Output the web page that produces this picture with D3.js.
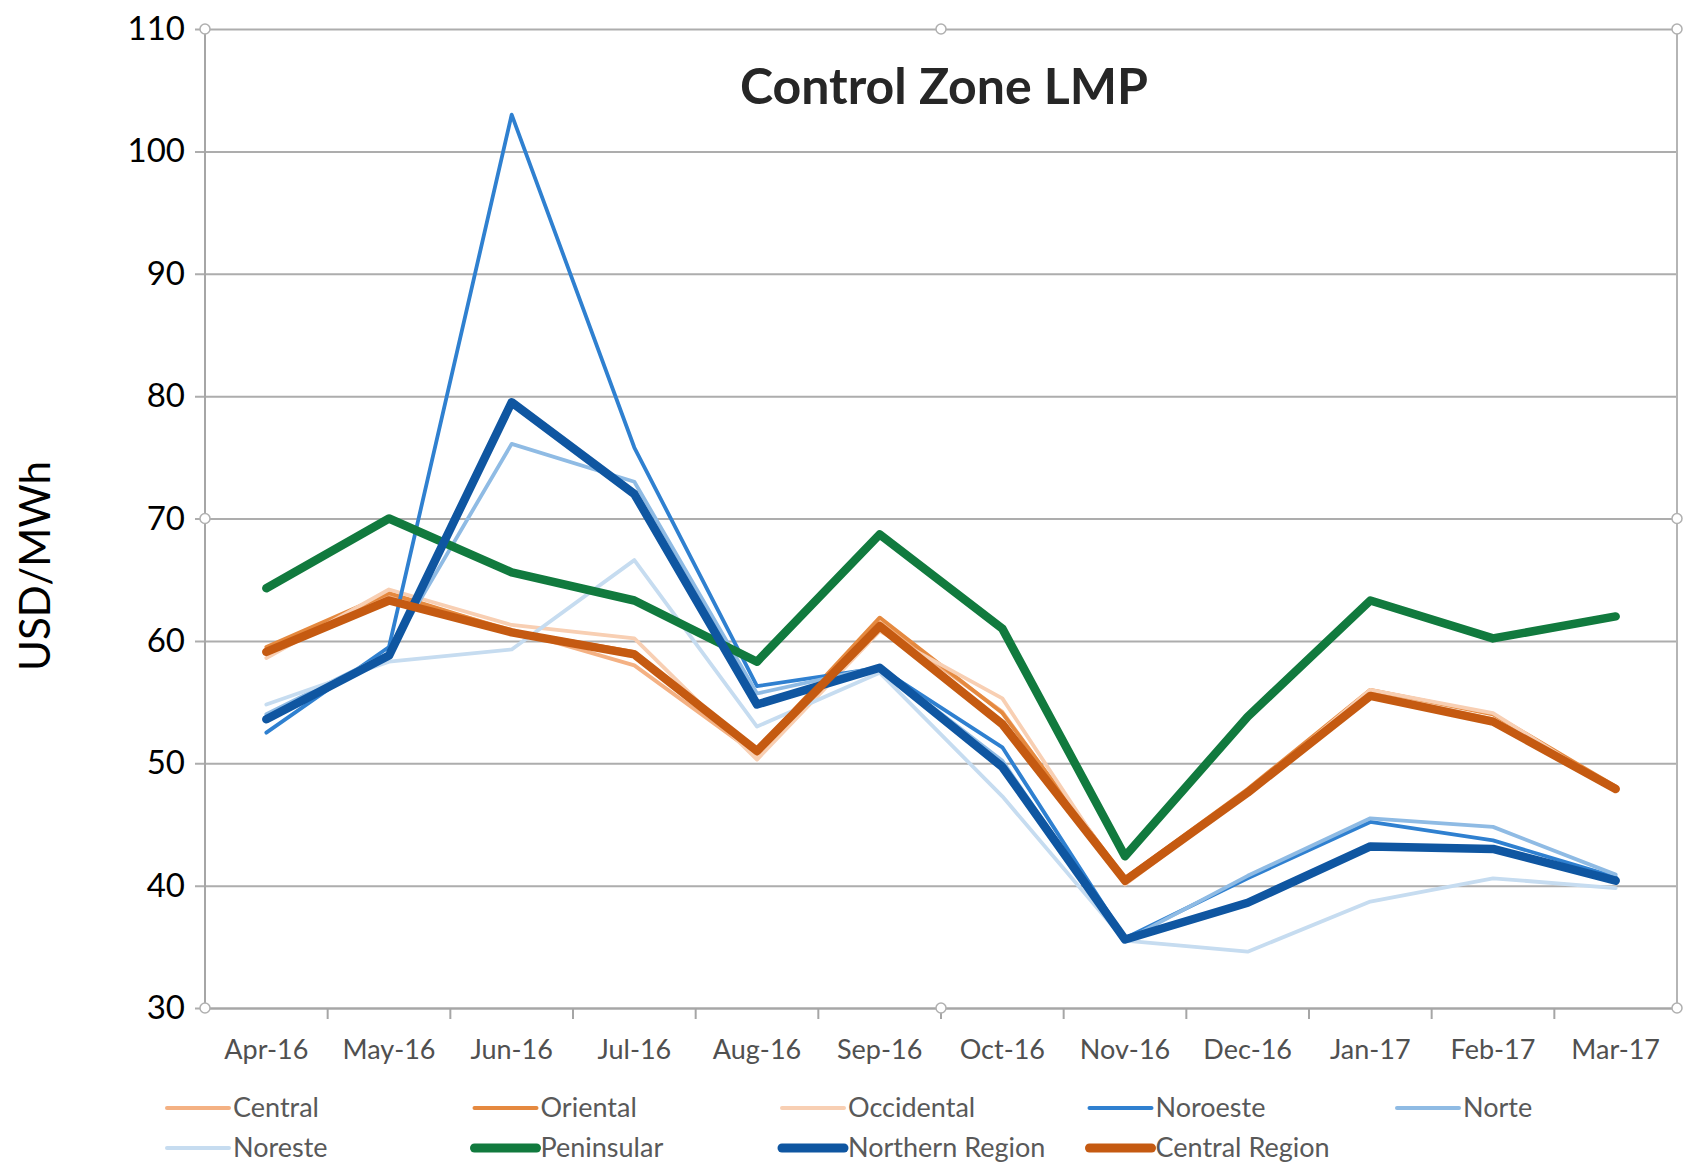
<!DOCTYPE html>
<html>
<head>
<meta charset="utf-8">
<script src="https://cdn.jsdelivr.net/npm/d3@7"></script>
<style>
  body { margin: 0; background: #fff; }
  text { font-family: Lato, "Open Sans", sans-serif; }
</style>
</head>
<body>
<div id="chart"></div>
<script>
const months = ["Apr-16", "May-16", "Jun-16", "Jul-16", "Aug-16", "Sep-16",
    "Oct-16", "Nov-16", "Dec-16", "Jan-17", "Feb-17", "Mar-17"];
const yTicks = [30, 40, 50, 60, 70, 80, 90, 100, 110];

const central = [59.3, 63.7, 60.9, 58.0, 50.7, 61.5, 54.2, 40.3, 47.6, 55.7, 53.6, 47.8];
const oriental = [59.5, 63.9, 60.8, 59.1, 51.1, 61.9, 54.1, 40.6, 47.9, 56.0, 54.0, 48.1];
const occidental = [58.6, 64.2, 61.3, 60.2, 50.3, 60.8, 55.3, 40.1, 47.6, 56.0, 54.1, 47.8];
const noroeste = [52.5, 59.5, 103.0, 75.8, 56.3, 57.8, 51.3, 35.7, 40.6, 45.2, 43.7, 40.7];
const norte = [54.0, 59.0, 76.1, 73.0, 55.7, 57.9, 50.2, 35.5, 40.8, 45.5, 44.8, 40.9];
const noreste = [54.8, 58.3, 59.3, 66.6, 53.0, 57.4, 47.3, 35.5, 34.6, 38.7, 40.6, 39.8];
const peninsular = [64.3, 70.0, 65.6, 63.3, 58.3, 68.7, 61.0, 42.4, 53.8, 63.3, 60.2, 62.0];
const northernRegion = [53.6, 58.8, 79.5, 72.0, 54.8, 57.8, 49.7, 35.6, 38.6, 43.2, 43.0, 40.4];
const centralRegion = [59.1, 63.3, 60.7, 58.9, 51.0, 61.2, 53.2, 40.4, 47.6, 55.5, 53.4, 47.9];

// drawing order follows the legend; later series sit on top
const series = [
    { name: "Central", values: central, color: "#f4b183", thick: false },
    { name: "Oriental", values: oriental, color: "#e5893f", thick: false },
    { name: "Occidental", values: occidental, color: "#f8cfb3", thick: false },
    { name: "Noroeste", values: noroeste, color: "#2f80d0", thick: false },
    { name: "Norte", values: norte, color: "#8fbbe4", thick: false },
    { name: "Noreste", values: noreste, color: "#c6dcf0", thick: false },
    { name: "Peninsular", values: peninsular, color: "#117a3e", thick: true },
    { name: "Northern Region", values: northernRegion, color: "#0f56a1", thick: true },
    { name: "Central Region", values: centralRegion, color: "#c55a11", thick: true }
];

const width = 1691;
const height = 1164;
const plotLeft = 205, plotRight = 1677, plotTop = 29, plotBottom = 1008;

const svg = d3.select("#chart")
    .append("svg")
    .attr("width", width)
    .attr("height", height);

svg.append("rect").attr("width", width).attr("height", height).attr("fill", "#fff");

const x = d3.scaleBand().domain(months).range([plotLeft, plotRight]);
const y = d3.scaleLinear().domain([30, 110]).range([plotBottom, plotTop]);

// gridlines + y labels
const yAxis = svg.append("g")
    .attr("transform", `translate(${plotLeft},0)`)
    .call(d3.axisLeft(y).tickValues(yTicks).tickSize(-(plotRight - plotLeft)).tickSizeOuter(0).tickPadding(20));
yAxis.select(".domain").remove();
yAxis.selectAll(".tick line")
    .attr("x1", -10)
    .attr("stroke", "#adadad")
    .attr("stroke-width", 2);
yAxis.selectAll(".tick text")
    .attr("font-size", 33)
    .attr("fill", "#000")
    .attr("font-family", "Lato, sans-serif");

// left axis and right border
svg.append("line").attr("x1", plotLeft).attr("x2", plotLeft).attr("y1", plotTop).attr("y2", plotBottom)
    .attr("stroke", "#a6a6a6").attr("stroke-width", 2);
svg.append("line").attr("x1", plotRight).attr("x2", plotRight).attr("y1", plotTop).attr("y2", plotBottom)
    .attr("stroke", "#b5b5b5").attr("stroke-width", 2);

// x axis
const xAxis = svg.append("g")
    .attr("transform", `translate(0,${plotBottom})`)
    .call(d3.axisBottom(x).tickSize(0).tickPadding(32));
xAxis.select(".domain").attr("stroke", "#a6a6a6").attr("stroke-width", 2);
xAxis.selectAll(".tick text")
    .attr("font-size", 27)
    .attr("fill", "#505050")
    .attr("font-family", "Lato, sans-serif");

// category separator ticks
svg.append("g").selectAll("line")
    .data(months.slice(1))
    .enter()
    .append("line")
    .attr("x1", d => x(d))
    .attr("x2", d => x(d))
    .attr("y1", plotBottom)
    .attr("y2", plotBottom + 11)
    .attr("stroke", "#a6a6a6")
    .attr("stroke-width", 2);

// title
svg.append("text")
    .attr("x", 944)
    .attr("y", 104)
    .attr("text-anchor", "middle")
    .attr("font-size", 50)
    .attr("font-weight", "bold")
    .attr("fill", "#262626")
    .text("Control Zone LMP");

// y axis title
svg.append("text")
    .attr("transform", `translate(50,566) rotate(-90)`)
    .attr("text-anchor", "middle")
    .attr("font-size", 42)
    .attr("fill", "#000")
    .text("USD/MWh");

// lines
const line = d3.line()
    .x((d, i) => x(months[i]) + x.bandwidth() / 2)
    .y(d => y(d));

svg.append("g").selectAll("path")
    .data(series)
    .enter()
    .append("path")
    .attr("d", d => line(d.values))
    .attr("fill", "none")
    .attr("stroke", d => d.color)
    .attr("stroke-width", d => d.thick ? 8.5 : 3.8)
    .attr("stroke-linejoin", "round")
    .attr("stroke-linecap", "round");

// selection handles of the plot area
const midX = (plotLeft + plotRight) / 2, midY = (plotTop + plotBottom) / 2;
const handles = [[plotLeft, plotTop], [midX, plotTop], [plotRight, plotTop], [plotLeft, midY], [plotRight, midY],
    [plotLeft, plotBottom], [midX, plotBottom], [plotRight, plotBottom]];
svg.append("g").selectAll("circle")
    .data(handles)
    .enter()
    .append("circle")
    .attr("cx", d => d[0])
    .attr("cy", d => d[1])
    .attr("r", 5)
    .attr("fill", "#fff")
    .attr("stroke", "#b0b0b0")
    .attr("stroke-width", 1.5);

// legend
const legend = svg.append("g").selectAll("g")
    .data(series)
    .enter()
    .append("g")
    .attr("transform", (d, i) => `translate(${167 + (i % 5) * 307.5},${1108 + Math.floor(i / 5) * 40})`);

legend.append("line")
    .attr("x1", 0)
    .attr("x2", 62)
    .attr("stroke", d => d.color)
    .attr("stroke-width", d => d.thick ? 9 : 4)
    .attr("stroke-linecap", "round");

legend.append("text")
    .attr("x", 66)
    .attr("y", 9)
    .attr("font-size", 27)
    .attr("fill", "#595959")
    .text(d => d.name);
</script>
</body>
</html>
